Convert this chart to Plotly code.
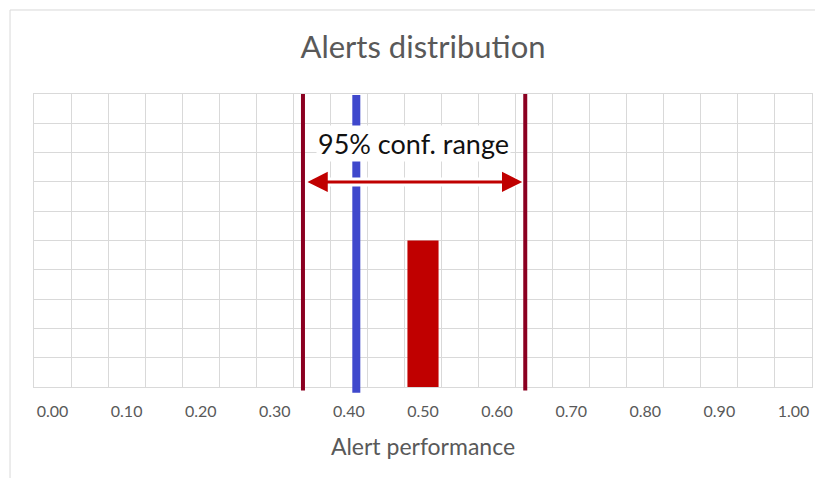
import plotly.graph_objects as go

# ---- data ----
bins = [0.00, 0.05, 0.10, 0.15, 0.20, 0.25, 0.30, 0.35, 0.40, 0.45, 0.50,
        0.55, 0.60, 0.65, 0.70, 0.75, 0.80, 0.85, 0.90, 0.95, 1.00]
counts = [0, 0, 0, 0, 0, 0, 0, 0, 0, 0, 1,
          0, 0, 0, 0, 0, 0, 0, 0, 0, 0]
tick_values = [0.0, 0.1, 0.2, 0.3, 0.4, 0.5, 0.6, 0.7, 0.8, 0.9, 1.0]
tick_labels = ["0.00", "0.10", "0.20", "0.30", "0.40", "0.50",
               "0.60", "0.70", "0.80", "0.90", "1.00"]
ci_low = 0.338
ci_high = 0.638
observed = 0.41
arrow_level = 1.4
label_x = 0.4865
label_level = 1.665

FONT = "Lato, 'Open Sans', sans-serif"
GRID = "#D9D9D9"

fig = go.Figure()
fig.add_trace(go.Bar(x=bins, y=counts, width=0.042,
                     marker=dict(color="#C00000", line=dict(width=0)),
                     hoverinfo="skip"))

# observed value (blue)
fig.add_shape(type="line", xref="x", yref="paper", x0=observed, x1=observed,
              y0=-0.02, y1=0.997, line=dict(color="#3F48CC", width=8), layer="above")
# white halo behind the arrow
fig.add_shape(type="line", xref="x", yref="y", x0=ci_low, x1=ci_high,
              y0=arrow_level, y1=arrow_level, line=dict(color="white", width=9), layer="above")
# confidence bounds (dark red)
for v in (ci_low, ci_high):
    fig.add_shape(type="line", xref="x", yref="paper", x0=v, x1=v,
                  y0=-0.012, y1=1.0, line=dict(color="#8B0021", width=4), layer="above")

# chart-area border
fig.add_shape(type="rect", xref="paper", yref="paper",
              x0=-0.0308, x1=1.03, y0=-0.36, y1=1.2867,
              line=dict(color=GRID, width=1), fillcolor="rgba(0,0,0,0)", layer="below")

# double-headed arrow
fig.add_annotation(x=ci_high, y=arrow_level, ax=ci_low, ay=arrow_level,
                   xref="x", yref="y", axref="x", ayref="y", text="",
                   showarrow=True, arrowside="end+start", arrowhead=2, startarrowhead=2,
                   arrowsize=1.35, startarrowsize=1.35, arrowwidth=3, arrowcolor="#C00000",
                   standoff=3, startstandoff=3)
fig.add_annotation(x=label_x, y=label_level, xref="x", yref="y",
                   text="95% conf. range", showarrow=False, bgcolor="white",
                   borderpad=1, font=dict(family=FONT, size=27, color="#111111"))

fig.update_layout(
    width=815, height=470,
    margin=dict(l=26, r=11, t=86, b=91),
    paper_bgcolor="white", plot_bgcolor="white",
    showlegend=False, font=dict(family=FONT),
    title=dict(text="Alerts distribution", x=0.5, xref="paper", xanchor="center",
               y=1 - 39 / 470, yref="container", yanchor="middle",
               font=dict(family=FONT, size=31, color="#595959")),
    xaxis=dict(range=[-0.025, 1.025], tickmode="array", tickvals=tick_values,
               ticktext=tick_labels, showgrid=False, zeroline=False,
               showline=True, mirror=True, linecolor=GRID, linewidth=1, ticks="",
               tickfont=dict(family=FONT, size=16, color="#595959"),
               ticklabelstandoff=10,
               minor=dict(tick0=-0.025, dtick=0.05, showgrid=True,
                          gridcolor=GRID, gridwidth=1, ticks=""),
               title=dict(text="Alert performance", standoff=19,
                          font=dict(family=FONT, size=23, color="#595959"))),
    yaxis=dict(range=[0, 2], tick0=0, dtick=0.2, showticklabels=False,
               showgrid=True, gridcolor=GRID, gridwidth=1, zeroline=False,
               showline=True, mirror=True, linecolor=GRID, ticks=""),
)

fig.write_html("out.html")
